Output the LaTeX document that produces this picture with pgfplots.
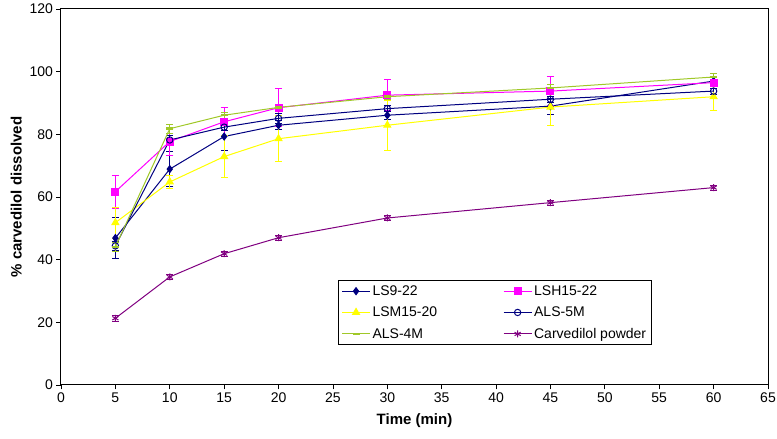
\documentclass[border=0pt]{standalone}
\usepackage{pgfplots}
\pgfplotsset{compat=1.18}
\usepackage{fontspec}
\setmainfont{Liberation Sans}
\definecolor{cnavy}{RGB}{0,0,128}
\definecolor{cmag}{RGB}{255,0,255}
\definecolor{cyel}{RGB}{255,255,0}
\definecolor{cgreen}{RGB}{160,200,40}
\definecolor{cpurp}{RGB}{128,0,128}
\begin{document}
\begin{tikzpicture}[x=1pt,y=1pt]
\useasboundingbox (-61,-54) rectangle (716,385);
\begin{axis}[
  at={(0,0)}, anchor=south west,
  scale only axis, width=707pt, height=376pt,
  xmin=0, xmax=65, ymin=0, ymax=120,
  xtick={0,5,...,65}, ytick={0,20,...,120},
  tick align=outside, xtick pos=bottom, ytick pos=left,
  major tick length=4.5pt,
  tick style={black, line width=0.8pt},
  axis line style={line width=1pt},
  tick label style={font=\fontsize{14}{16}\selectfont},
  /pgf/number format/assume math mode=true,
  xlabel={\bfseries Time (min)}, ylabel={\bfseries\% carvedilol dissolved},
  label style={font=\fontsize{15}{17}\selectfont},
  xlabel style={yshift=-4pt},
  ylabel style={yshift=1pt},
  legend columns=2,
  legend style={at={(0.392,0.106)}, anchor=south west, font=\fontsize{14}{16}\selectfont,
    draw=black, line width=0.8pt, inner sep=3pt,
    /tikz/every even column/.append style={column sep=64pt},
    cells={anchor=west}, row sep=6pt},
  legend cell align=left,
  legend image code/.code={\draw[mark repeat=2,mark phase=2,#1] plot coordinates {(0pt,0pt) (14pt,0pt) (28pt,0pt)};},
  error bars/y dir=both, error bars/y explicit,
]
\addplot[cnavy, line width=1pt, mark=diamond*, mark size=3.5pt, mark options={fill=cnavy},
  error bars/error bar style={cnavy, line width=0.9pt},
  error bars/error mark options={rotate=90, mark size=3.5pt, cnavy, line width=0.9pt}]
  coordinates {(5,46.9) +- (0,6.5) (10,68.9) +- (0,5.5) (15,79.3) +- (0,4.5) (20,82.9) +- (0,1.5) (30,86.1) +- (0,1.2) (45,89.0) +- (0,2.5) (60,97.0) +- (0,1.5)};
\addlegendentry{LS9-22}
\addplot[cmag, line width=1pt, mark=square*, mark size=3.5pt, mark options={fill=cmag},
  error bars/error bar style={cmag, line width=0.9pt},
  error bars/error mark options={rotate=90, mark size=3.5pt, cmag, line width=0.9pt}]
  coordinates {(5,61.7) +- (0,5.3) (10,77.7) +- (0,4.5) (15,84.0) +- (0,4.5) (20,88.5) +- (0,6.0) (30,92.5) +- (0,5.0) (45,93.8) +- (0,4.6) (60,96.5) +- (0,2.0)};
\addlegendentry{LSH15-22}
\addplot[cyel, line width=1pt, mark=triangle*, mark size=4pt, mark options={fill=cyel},
  error bars/error bar style={cyel, line width=0.9pt},
  error bars/error mark options={rotate=90, mark size=3.5pt, cyel, line width=0.9pt}]
  coordinates {(5,51.8) +- (0,5.0) (10,64.8) +- (0,2.0) (15,72.9) +- (0,6.7) (20,78.6) +- (0,7.4) (30,82.9) +- (0,8.0) (45,88.7) +- (0,6.0) (60,92.0) +- (0,4.3)};
\addlegendentry{LSM15-20}
\addplot[cnavy, line width=1pt, mark=o, mark size=3.2pt, mark options={fill=white},
  error bars/error bar style={cnavy, line width=0.9pt},
  error bars/error mark options={rotate=90, mark size=3.5pt, cnavy, line width=0.9pt}]
  coordinates {(5,44.4) +- (0,1.5) (10,78.2) +- (0,1.5) (15,82.3) +- (0,1.2) (20,85.1) +- (0,1.5) (30,88.2) +- (0,1.0) (45,91.2) +- (0,1.0) (60,93.8) +- (0,1.0)};
\addlegendentry{ALS-5M}
\addplot[cgreen, line width=1pt, mark=-, mark size=3.5pt, mark options={line width=2.5pt},
  error bars/error bar style={cgreen, line width=0.9pt},
  error bars/error mark options={rotate=90, mark size=3.5pt, cgreen, line width=0.9pt}]
  coordinates {(5,44.1) +- (0,1.5) (10,81.8) +- (0,1.5) (15,86.1) +- (0,1.0) (20,88.6) +- (0,1.0) (30,92.0) +- (0,1.0) (45,94.8) +- (0,1.0) (60,98.3) +- (0,1.0)};
\addlegendentry{ALS-4M}
\addplot[cpurp, line width=1pt, mark=asterisk, mark size=3.5pt,
  error bars/error bar style={cpurp, line width=0.9pt},
  error bars/error mark options={rotate=90, mark size=3.5pt, cpurp, line width=0.9pt}]
  coordinates {(5,21.3) +- (0,1.0) (10,34.5) +- (0,0.8) (15,41.9) +- (0,0.8) (20,47.0) +- (0,0.8) (30,53.3) +- (0,0.8) (45,58.2) +- (0,0.8) (60,63.0) +- (0,0.8)};
\addlegendentry{Carvedilol powder}
\end{axis}
\end{tikzpicture}
\end{document}
